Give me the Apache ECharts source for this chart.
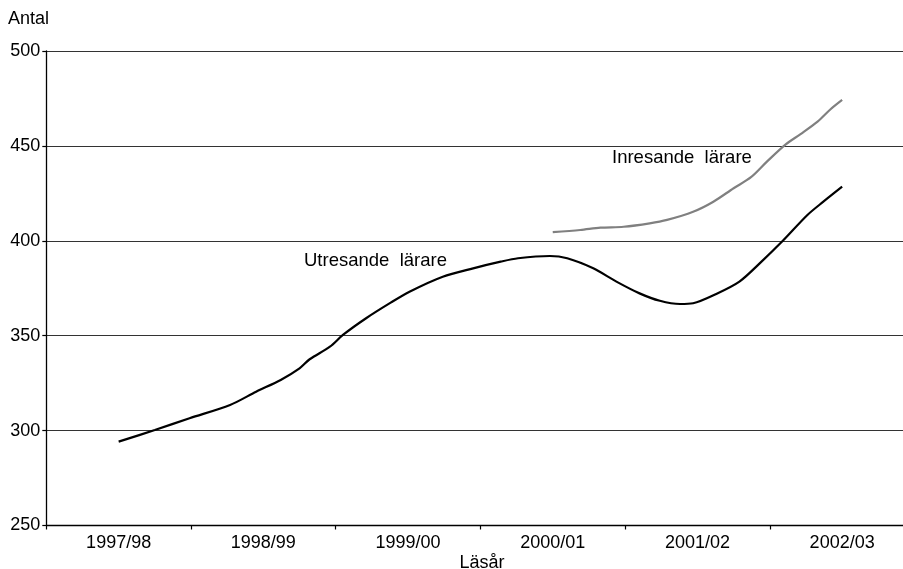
<!DOCTYPE html>
<html>
<head>
<meta charset="utf-8">
<script src="https://cdn.jsdelivr.net/npm/echarts@6/dist/echarts.min.js"></script>
<style>
html,body{margin:0;padding:0;background:#fff;overflow:hidden;width:903px;height:569px;}
#chart{width:916px;height:569px;}
</style>
</head>
<body>
<div id="chart"></div>
<script>
// Tick labels (school years)
const categories = ['1997/98','1998/99','1999/00','2000/01','2001/02','2002/03'];
const yTicks = [250, 300, 350, 400, 450, 500];

// Utresande lärare: position along school years (0 = 1997/98) and value
const utX = [0.0,0.25,0.49,0.77,0.95,1.12,1.25,1.32,1.46,1.55,1.71,1.88,2.01,2.24,2.45,2.64,2.76,2.98,3.10,3.28,3.44,3.60,3.74,3.88,3.97,4.13,4.29,4.43,4.59,4.76,4.87,5.0];
const utY = [294.2,300.3,306.5,313.5,320.5,326.7,332.8,337.6,344.2,350.4,359.2,367.4,373.2,381.1,385.5,389.0,390.8,392.0,390.8,385.5,378.5,372.3,368.4,366.7,367.1,372.0,378.5,388.1,400.0,413.6,420.6,428.5];

// Inresande lärare
const inX = [3.0,3.19,3.33,3.49,3.67,3.79,3.97,4.11,4.25,4.37,4.48,4.61,4.71,4.83,4.92,5.0];
const inY = [404.6,405.7,406.9,407.4,409.2,411.0,415.3,420.6,427.7,433.5,441.7,450.8,456.1,462.8,469.3,474.2];

const FONT = 'Liberation Sans, Arial, Helvetica, sans-serif';
const chart = echarts.init(document.getElementById('chart'), null, {renderer:'canvas'});

const pairs = (xs, ys) => xs.map((x, i) => [x, ys[i]]);

chart.setOption({
  animation: false,
  backgroundColor: '#fff',
  grid: { left: 46.3, top: 51, bottom: 43.5, right: 1.5, containLabel: false },
  xAxis: [
    {
      type: 'category',
      data: categories,
      boundaryGap: true,
      axisLine: { show: true, onZero: false, lineStyle: { color: '#000', width: 1.3 } },
      axisTick: { show: true, length: 4, inside: false, lineStyle: { color: '#000', width: 1.2 } },
      axisLabel: { color: '#000', fontFamily: FONT, fontSize: 18, margin: 9 },
      splitLine: { show: false }
    },
    {
      type: 'value',
      min: -0.5, max: 5.5,
      show: false,
      splitLine: { show: false }
    }
  ],
  yAxis: {
    type: 'value',
    min: yTicks[0], max: yTicks[yTicks.length - 1], interval: 50,
    axisLine: { show: true, onZero: false, lineStyle: { color: '#000', width: 1.3 } },
    axisTick: { show: true, length: 4, inside: false, lineStyle: { color: '#000', width: 1.2 } },
    axisLabel: { color: '#000', fontFamily: FONT, fontSize: 18, margin: 6 },
    splitLine: { show: true, lineStyle: { color: '#333', width: 1.2 } }
  },
  series: [
    {
      name: 'Utresande lärare',
      type: 'line',
      xAxisIndex: 1,
      data: pairs(utX, utY),
      smooth: 0.3,
      showSymbol: false,
      lineStyle: { color: '#000', width: 2.2 }
    },
    {
      name: 'Inresande lärare',
      type: 'line',
      xAxisIndex: 1,
      data: pairs(inX, inY),
      smooth: 0.3,
      showSymbol: false,
      lineStyle: { color: '#808080', width: 2.2 }
    }
  ],
  graphic: [
    { type: 'text', left: 8, top: 10, style: { text: 'Antal', fontFamily: FONT, fontSize: 18, fill: '#000' } },
    { type: 'text', x: 482, y: 563, style: { text: 'Läsår', fontFamily: FONT, fontSize: 18, fill: '#000', align: 'center', verticalAlign: 'middle' } },
    { type: 'text', x: 304, y: 261, style: { text: 'Utresande  lärare', fontFamily: FONT, fontSize: 18.5, fill: '#000', align: 'left', verticalAlign: 'middle' } },
    { type: 'text', x: 612, y: 158, style: { text: 'Inresande  lärare', fontFamily: FONT, fontSize: 18.5, fill: '#000', align: 'left', verticalAlign: 'middle' } }
  ]
});
</script>
</body>
</html>
